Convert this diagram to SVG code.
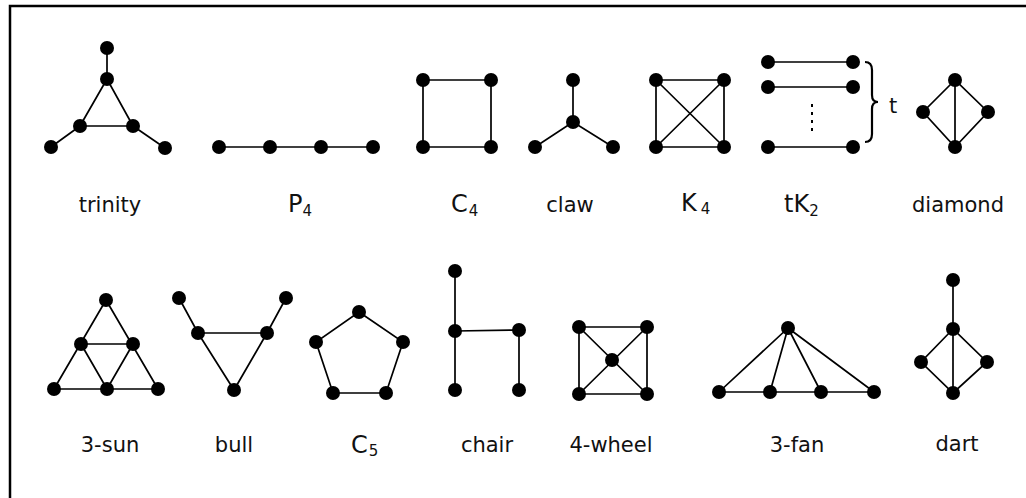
<svg xmlns="http://www.w3.org/2000/svg" width="1026" height="498" viewBox="0 0 1026 498">
<style>
.e{stroke:#000;stroke-width:1.7;fill:none}
.n circle{fill:#000;r:7px}
.lbl{font-family:"DejaVu Sans",sans-serif;font-size:21px;fill:#111}
.mlbl{font-family:"DejaVu Sans",sans-serif;font-size:24px;fill:#111}
.sub{font-size:15px}
</style>
<path d="M10 498 L10 6 L1026 6" fill="none" stroke="#000" stroke-width="2.5"/>
<g id="connectors">
<path class="e" d="M107 48 L107 79 M107 79 L80 126 L133 126 Z M80 126 L51 147 M133 126 L165 148"/>
<path class="e" d="M219 147 L373 147"/>
<path class="e" d="M423 80 L491 80 L491 147 L423 147 Z"/>
<path class="e" d="M573 80 L573 122 M535 147 L573 122 L613 147"/>
<path class="e" d="M656 80 L724 80 L724 147 L656 147 Z M656 80 L724 147 M724 80 L656 147"/>
<path class="e" d="M768 62 L853 62 M768 87 L853 87 M768 147 L853 147"/>
<path d="M812 104 L812 131" stroke="#000" stroke-width="2" stroke-dasharray="3 5" fill="none"/>
<path d="M865 62 Q872 62 872 70 L872 95 Q872 102 878 102 Q872 102 872 109 L872 134 Q872 142 865 142" fill="none" stroke="#000" stroke-width="2.2"/>
<path class="e" d="M955 80 L923 112 L955 147 L988 112 Z M955 80 L955 147"/>
<path class="e" d="M106 300 L54 389 L158 389 Z M81 344 L133 344 L107 389 Z"/>
<path class="e" d="M179 298 L198 333 L234 390 L267 333 L286 298 M198 333 L267 333"/>
<path class="e" d="M359 312 L403 342 L386 393 L333 393 L316 342 Z"/>
<path class="e" d="M455 271 L455 390 M455 331 L519 330 L519 390"/>
<path class="e" d="M579 327 L647 327 L647 394 L579 394 Z M579 327 L647 394 M647 327 L579 394"/>
<path class="e" d="M719 392 L874 392 M788 328 L719 392 M788 328 L770 392 M788 328 L821 392 M788 328 L874 392"/>
<path class="e" d="M953 280 L953 393 M953 329 L921 362 L953 393 L987 362 Z"/>
</g>
<g id="trinity" class="n">
<circle cx="107" cy="48" r="7"/><circle cx="107" cy="79" r="7"/><circle cx="80" cy="126" r="7"/><circle cx="133" cy="126" r="7"/><circle cx="51" cy="147" r="7"/><circle cx="165" cy="148" r="7"/>
<text class="lbl" x="110" y="212" text-anchor="middle">trinity</text>
</g>
<g id="P4" class="n">
<circle cx="219" cy="147" r="7"/><circle cx="270" cy="147" r="7"/><circle cx="321" cy="147" r="7"/><circle cx="373" cy="147" r="7"/>
<text class="mlbl" x="288" y="212">P<tspan class="sub" dy="4">4</tspan></text>
</g>
<g id="C4" class="n">
<circle cx="423" cy="80" r="7"/><circle cx="491" cy="80" r="7"/><circle cx="423" cy="147" r="7"/><circle cx="491" cy="147" r="7"/>
<text class="mlbl" x="451" y="212">C<tspan class="sub" dy="4" dx="1">4</tspan></text>
</g>
<g id="claw" class="n">
<circle cx="573" cy="80" r="7"/><circle cx="573" cy="122" r="7"/><circle cx="535" cy="147" r="7"/><circle cx="613" cy="147" r="7"/>
<text class="lbl" x="570" y="212" text-anchor="middle">claw</text>
</g>
<g id="K4" class="n">
<circle cx="656" cy="80" r="7"/><circle cx="724" cy="80" r="7"/><circle cx="656" cy="147" r="7"/><circle cx="724" cy="147" r="7"/>
<text class="mlbl" x="681" y="211">K<tspan class="sub" dy="3" dx="4">4</tspan></text>
</g>
<g id="tK2" class="n">
<circle cx="768" cy="62" r="7"/><circle cx="853" cy="62" r="7"/><circle cx="768" cy="87" r="7"/><circle cx="853" cy="87" r="7"/><circle cx="768" cy="147" r="7"/><circle cx="853" cy="147" r="7"/>
<text class="lbl" x="889" y="113">t</text>
<text class="mlbl" x="784" y="212">tK<tspan class="sub" dy="4">2</tspan></text>
</g>
<g id="diamond" class="n">
<circle cx="955" cy="80" r="7"/><circle cx="923" cy="112" r="7"/><circle cx="988" cy="112" r="7"/><circle cx="955" cy="147" r="7"/>
<text class="lbl" x="958" y="212" text-anchor="middle">diamond</text>
</g>
<g id="sun3" class="n">
<circle cx="106" cy="300" r="7"/><circle cx="81" cy="344" r="7"/><circle cx="133" cy="344" r="7"/><circle cx="54" cy="389" r="7"/><circle cx="107" cy="389" r="7"/><circle cx="158" cy="389" r="7"/>
<text class="lbl" x="110" y="452" text-anchor="middle">3-sun</text>
</g>
<g id="bull" class="n">
<circle cx="179" cy="298" r="7"/><circle cx="286" cy="298" r="7"/><circle cx="198" cy="333" r="7"/><circle cx="267" cy="333" r="7"/><circle cx="234" cy="390" r="7"/>
<text class="lbl" x="234" y="452" text-anchor="middle">bull</text>
</g>
<g id="C5" class="n">
<circle cx="359" cy="312" r="7"/><circle cx="316" cy="342" r="7"/><circle cx="403" cy="342" r="7"/><circle cx="333" cy="393" r="7"/><circle cx="386" cy="393" r="7"/>
<text class="mlbl" x="351" y="453">C<tspan class="sub" dy="3" dx="1">5</tspan></text>
</g>
<g id="chair" class="n">
<circle cx="455" cy="271" r="7"/><circle cx="455" cy="331" r="7"/><circle cx="455" cy="390" r="7"/><circle cx="519" cy="330" r="7"/><circle cx="519" cy="390" r="7"/>
<text class="lbl" x="487" y="452" text-anchor="middle">chair</text>
</g>
<g id="wheel4" class="n">
<circle cx="579" cy="327" r="7"/><circle cx="647" cy="327" r="7"/><circle cx="612" cy="360" r="7"/><circle cx="579" cy="394" r="7"/><circle cx="647" cy="394" r="7"/>
<text class="lbl" x="611" y="452" text-anchor="middle">4-wheel</text>
</g>
<g id="fan3" class="n">
<circle cx="788" cy="328" r="7"/><circle cx="719" cy="392" r="7"/><circle cx="770" cy="392" r="7"/><circle cx="821" cy="392" r="7"/><circle cx="874" cy="392" r="7"/>
<text class="lbl" x="797" y="452" text-anchor="middle">3-fan</text>
</g>
<g id="dart" class="n">
<circle cx="953" cy="280" r="7"/><circle cx="953" cy="329" r="7"/><circle cx="921" cy="362" r="7"/><circle cx="987" cy="362" r="7"/><circle cx="953" cy="393" r="7"/>
<text class="lbl" x="957" y="451" text-anchor="middle">dart</text>
</g>
</svg>
